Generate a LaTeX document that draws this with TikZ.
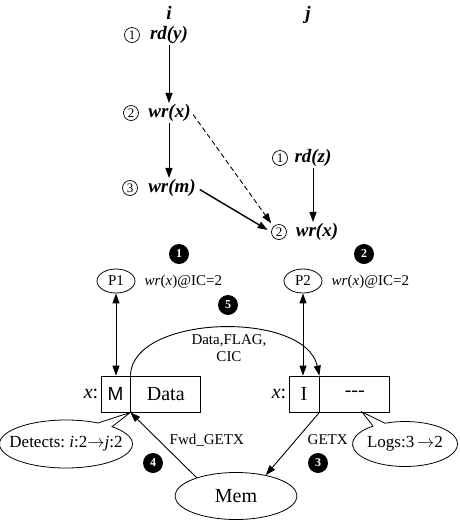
\documentclass[tikz,border=0pt]{standalone}
\usepackage{fontspec}
\setmainfont{Liberation Serif}
\setsansfont{Liberation Sans}
\usetikzlibrary{arrows.meta,shapes.geometric,shapes.callouts}
\tikzset{
  op/.style={font=\fontsize{19}{21}\selectfont\bfseries\itshape, inner sep=1pt},
  num/.style={draw, circle, line width=0.7pt, minimum size=15, inner sep=0pt, font=\fontsize{13}{14}\selectfont},
  flow/.style={-{Triangle[length=10pt,width=7pt]}, line width=0.9pt},
  both/.style={{Triangle[length=10pt,width=7pt]}-{Triangle[length=10pt,width=7pt]}, line width=0.9pt},
  proc/.style={draw, ellipse, minimum width=38, minimum height=24, inner sep=0pt, font=\fontsize{15}{17}\selectfont},
  cell/.style={draw, line width=0.8pt, minimum height=36, inner sep=0pt, font=\fontsize{20}{22}\selectfont},
  blackdot/.style={circle, fill=black, text=white, minimum size=20, inner sep=0pt, font=\fontsize{12}{13}\selectfont\bfseries},
  note/.style={font=\fontsize{15}{17}\selectfont},
  bubble/.style={draw, ellipse callout, line width=0.8pt, inner xsep=-20pt, inner ysep=0pt, font=\fontsize{17}{19}\selectfont}
}
\begin{document}
\begin{tikzpicture}[x=1pt,y=-1pt,line width=0.8pt]
  \useasboundingbox (0,0) rectangle (459,523);
  % threads
  \node[op] (ti) at (169,13) {i};
  \node[op] (tj) at (308,15) {j};
  % operations of i
  \node[num] (c1) at (132,35) {1};
  \node[op] (rdy) at (169,35) {rd(y)};
  \node[num] (c2) at (131,113) {2};
  \node[op] (wrxi) at (169.5,113) {wr(x)};
  \node[num] (c3) at (130,188) {3};
  \node[op] (wrm) at (172,188) {wr(m)};
  % operations of j
  \node[num] (c4) at (280,158) {1};
  \node[op] (rdz) at (313,158) {rd(z)};
  \node[num] (c5) at (279,232) {2};
  \node[op] (wrxj) at (317,232) {wr(x)};
  \begin{scope}[flow]
    \draw (rdy.south) -- (rdy.south |- wrxi.north);
    \draw (rdy.south |- wrxi.south) -- (rdy.south |- wrm.north);
    \draw (rdz.south) -- (rdz.south |- wrxj.north);
    \draw[dash pattern=on 5pt off 3pt, shorten <=2pt, shorten >=4pt] (wrxi.east) -- (c5.north west);
    \draw[line width=1.4pt, shorten <=3pt, shorten >=4pt] (wrm.east) -- (c5.west);
  \end{scope}
  % processors
  \node[blackdot] (n1) at (179,254) {1};
  \node[blackdot] (n2) at (364,254) {2};
  \node[proc] (P1) at (116,281) {P1};
  \node[proc] (P2) at (303,281) {P2};
  \node[note, anchor=west] (ic1) at (141,282) {\textit{wr}(\textit{x})@IC=2};
  \node[note, anchor=west] (ic2) at (328,282) {\textit{wr}(\textit{x})@IC=2};
  % cache lines
  \node[cell, minimum width=29, font=\fontsize{19}{21}\selectfont\sffamily] (M) at (115.5,394) {M};
  \node[cell, minimum width=70, anchor=west] (D) at (M.east) {Data};
  \node[cell, minimum width=30] (I) at (304,394) {I};
  \node[cell, minimum width=70, anchor=west] (E) at (I.east) {-{}-{}-};
  \node[font=\fontsize{20}{22}\selectfont, anchor=east, inner sep=2pt] (xl) at (M.west) {\textit{x}:};
  \node[font=\fontsize{20}{22}\selectfont, anchor=east, inner sep=2pt] (xr) at (I.west) {\textit{x}:};
  \draw[both] (P1) -- (P1 |- M.north);
  \draw[both] (P2) -- (P2 |- I.north);
  % data transfer
  \draw[flow] (M.north east) .. controls (132,314) and (305,310) .. (I.north east);
  \node[blackdot] (n5) at (228,305) {5};
  \node[note, align=center, inner sep=0pt] (dfc) at (229,348) {Data,FLAG,\\CIC};
  % memory
  \node[draw, ellipse, minimum width=122, minimum height=47, inner sep=0pt, font=\fontsize{20}{22}\selectfont] (Mem) at (236,496) {Mem};
  \draw[flow] (Mem.155) -- (M.south east);
  \draw[flow] (I.south east) -- (Mem.35);
  \node[note, anchor=west] (fwd) at (166,440) {Fwd\_GETX};
  \node[note, anchor=west] (getx) at (304,440) {GETX};
  \node[blackdot] (n4) at (153,463) {4};
  \node[blackdot] (n3) at (318,463) {3};
  % callouts
  \node[bubble, minimum width=133, minimum height=48, callout absolute pointer={(M.south east)}] (det) at (66,444) {Detects:~\textit{i}:2$\rightarrow$\textit{j}:2};
  \node[bubble, minimum width=105, minimum height=45, callout absolute pointer={(362,412)}] (logs) at (405,444) {Logs:3\,$\rightarrow$2};
\end{tikzpicture}
\end{document}
